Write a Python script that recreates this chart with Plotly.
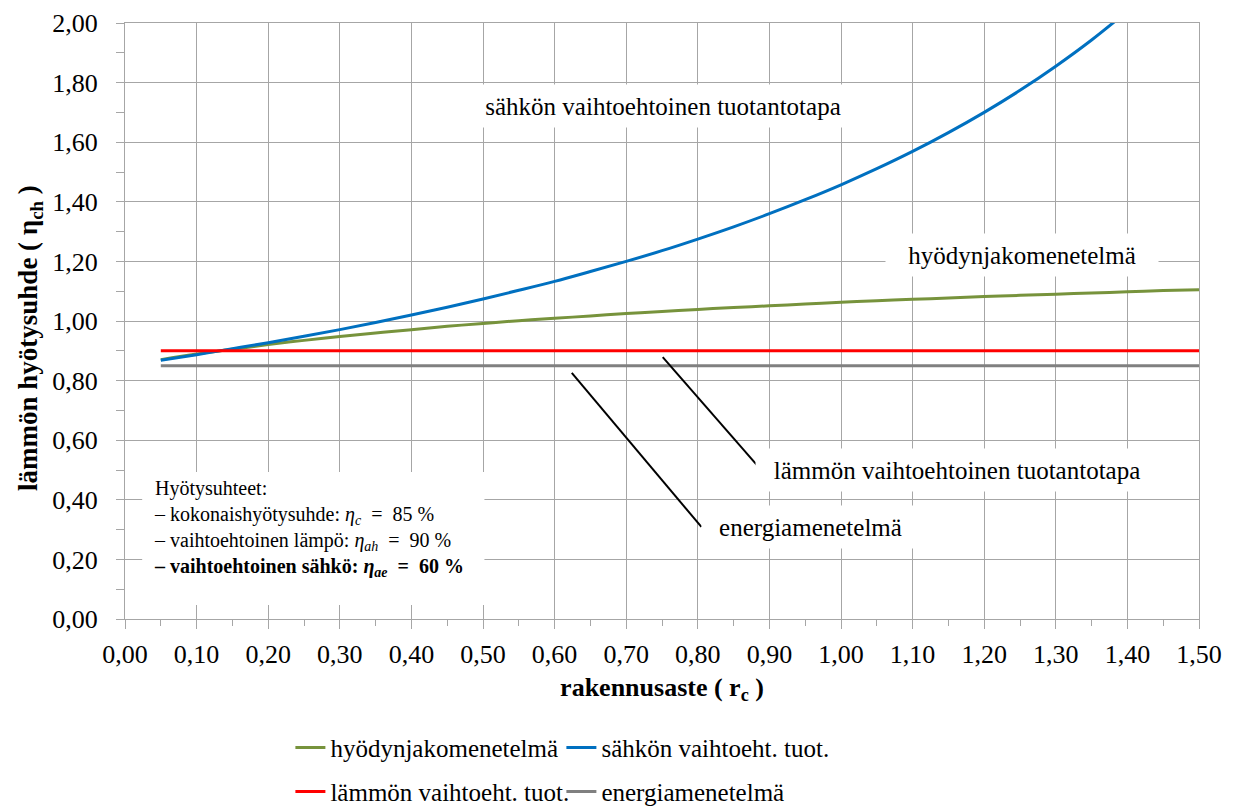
import plotly.graph_objects as go

# rakennusaste r_c
rc = [0.05, 0.10, 0.15, 0.20, 0.25, 0.30, 0.35, 0.40, 0.45, 0.50,
      0.55, 0.60, 0.65, 0.70, 0.75, 0.80, 0.85, 0.90, 0.95, 1.00,
      1.05, 1.10, 1.15, 1.20, 1.25, 1.30, 1.35, 1.40, 1.45, 1.50]

# hyödynjakomenetelmä
eta_hyodynjako = [0.870, 0.889, 0.905, 0.921, 0.935, 0.948, 0.960, 0.971, 0.982, 0.992,
                  1.001, 1.009, 1.017, 1.025, 1.032, 1.039, 1.045, 1.051, 1.057, 1.063,
                  1.068, 1.073, 1.077, 1.082, 1.086, 1.090, 1.094, 1.098, 1.102, 1.105]

# sähkön vaihtoehtoinen tuotantotapa (ends just above the 2,00 limit)
rc_sahko = rc[:28]
eta_sahko = [0.868, 0.887, 0.907, 0.927, 0.949, 0.971, 0.995, 1.020, 1.046, 1.074,
             1.103, 1.133, 1.166, 1.200, 1.236, 1.275, 1.316, 1.360, 1.407, 1.457,
             1.511, 1.569, 1.632, 1.700, 1.774, 1.855, 1.943, 2.040]

# lämmön vaihtoehtoinen tuotantotapa and energiamenetelmä
rc_const = [0.05, 1.50]
eta_lampo = [0.90, 0.90]
eta_energia = [0.85, 0.85]

FONT = "Liberation Serif"
GRID = "#a6a6a6"

fig = go.Figure()
fig.add_trace(go.Scatter(x=rc, y=eta_hyodynjako, mode="lines", name="hyödynjakomenetelmä",
                         line=dict(color="#77933C", width=3, shape="spline"), legend="legend"))
fig.add_trace(go.Scatter(x=rc_sahko, y=eta_sahko, mode="lines", name="sähkön vaihtoeht. tuot.",
                         line=dict(color="#0070C0", width=3, shape="spline"), legend="legend"))
fig.add_trace(go.Scatter(x=rc_const, y=eta_lampo, mode="lines", name="lämmön vaihtoeht. tuot.",
                         line=dict(color="#FF0000", width=3), legend="legend2"))
fig.add_trace(go.Scatter(x=rc_const, y=eta_energia, mode="lines", name="energiamenetelmä",
                         line=dict(color="#808080", width=3), legend="legend2"))

# leader lines from the labels to the horizontal series
fig.add_shape(type="line", x0=0.751, y0=0.879, x1=0.886, y1=0.507,
              line=dict(color="black", width=2))
fig.add_shape(type="line", x0=0.624, y0=0.826, x1=0.805, y1=0.309,
              line=dict(color="black", width=2))

# white panel behind the efficiency summary
fig.add_shape(type="rect", x0=0.024, x1=0.502, y0=0.047, y1=0.493,
              fillcolor="white", line=dict(width=0), layer="between")

label_font = dict(family=FONT, size=25, color="black")
labels = [
    ("sähkön vaihtoehtoinen tuotantotapa", 0.752, 1.721, 400),
    ("hyödynjakomenetelmä", 1.253, 1.221, 270),
    ("lämmön vaihtoehtoinen tuotantotapa", 1.162, 0.500, 400),
    ("energiamenetelmä", 0.957, 0.309, 215),
]
for text, x, y, w in labels:
    fig.add_annotation(x=x, y=y, text=text, showarrow=False, font=label_font,
                       bgcolor="white", width=w, height=40, xanchor="center", yanchor="middle")

EQ = "\u2002=\u2002"
fig.add_annotation(
    x=0.038, y=0.305, xanchor="left", yanchor="middle", align="left", showarrow=False,
    font=dict(family=FONT, size=20, color="black"),
    text=("Hyötysuhteet:<br>"
          f"– kokonaishyötysuhde: <i>η</i><sub><i>c</i></sub>{EQ}85 %<br>"
          f"– vaihtoehtoinen lämpö: <i>η</i><sub><i>ah</i></sub>{EQ}90 %<br>"
          f"<b>– vaihtoehtoinen sähkö: <i>η</i><sub><i>ae</i></sub>{EQ}60 %</b>"),
)

# y-axis title placed as a rotated annotation
fig.add_annotation(
    xref="paper", yref="paper", x=-0.0885, y=0.4715, xanchor="center", yanchor="middle",
    textangle=-90, showarrow=False,
    font=dict(family=FONT, size=27, color="black"),
    text="<b>lämmön hyötysuhde ( η<sub>ch</sub> )</b>",
)

axis_common = dict(
    showgrid=True, gridcolor=GRID, gridwidth=1,
    showline=True, linecolor=GRID, linewidth=1, mirror=True,
    ticks="outside", tickcolor=GRID, tickformat=".2f",
    tickfont=dict(family=FONT, size=26, color="black"),
    zeroline=False,
)

fig.update_xaxes(
    range=[0, 1.5], dtick=0.1, tick0=0, ticklen=9, ticklabelstandoff=3,
    minor=dict(dtick=0.05, ticks="outside", ticklen=6, tickcolor=GRID, showgrid=False),
    title=dict(text="<b>rakennusaste ( r<sub>c</sub> )</b>",
               font=dict(family=FONT, size=26, color="black"), standoff=9),
    **axis_common,
)
fig.update_yaxes(
    range=[0, 2.0], dtick=0.2, tick0=0, ticklen=8, ticklabelstandoff=13,
    minor=dict(dtick=0.1, ticks="outside", ticklen=8, tickcolor=GRID, showgrid=False),
    **axis_common,
)

legend_common = dict(orientation="h", xanchor="left", yanchor="middle",
                     entrywidth=226, entrywidthmode="pixels",
                     font=dict(family=FONT, size=25, color="black"),
                     bgcolor="rgba(0,0,0,0)", tracegroupgap=0)

fig.update_layout(
    width=1240, height=806,
    margin=dict(l=125, r=41, t=23, b=187, autoexpand=False),
    paper_bgcolor="white", plot_bgcolor="white",
    separators=", ",
    font=dict(family=FONT, color="black"),
    legend=dict(x=0.154, y=-0.216, **legend_common),
    legend2=dict(x=0.154, y=-0.290, **legend_common),
)

fig.write_html("out.html")
